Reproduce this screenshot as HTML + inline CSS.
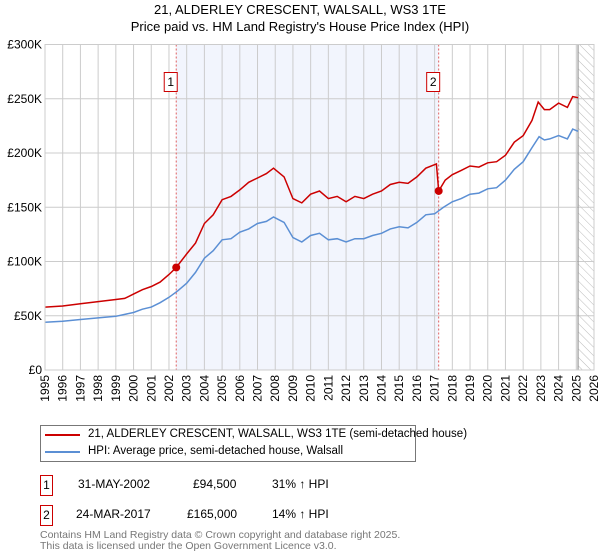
<!DOCTYPE html>
<html><head><meta charset="utf-8"><style>
body{margin:0;width:600px;height:560px;background:#fff;font-family:"Liberation Sans","DejaVu Sans",sans-serif;overflow:hidden;position:relative}
.t{position:absolute;font-size:12px;color:#000;white-space:nowrap}
.box{position:absolute;border:1px solid #c00;width:11px;height:19px;font-size:12px;text-align:center;line-height:19px}
</style></head><body>
<div class="t" style="left:0;width:600px;text-align:center;top:2px;font-size:13px">21, ALDERLEY CRESCENT, WALSALL, WS3 1TE</div>
<div class="t" style="left:0;width:600px;text-align:center;top:19px;font-size:13px">Price paid vs. HM Land Registry's House Price Index (HPI)</div>
<svg id="c" width="600" height="415" style="position:absolute;left:0;top:0">
<defs><pattern id="h" width="6" height="6" patternUnits="userSpaceOnUse" patternTransform="rotate(-45)"><line x1="0" y1="0" x2="0" y2="6" stroke="#bbb" stroke-width="1"/></pattern></defs>
</svg>
<div style="position:absolute;left:40px;top:425px;width:374px;height:35px;border:1px solid #777">
<div style="position:absolute;left:4px;top:8px;width:35px;height:2px;background:#c00"></div>
<div class="t" style="left:47px;top:2px;font-size:11.5px">21, ALDERLEY CRESCENT, WALSALL, WS3 1TE (semi-detached house)</div>
<div style="position:absolute;left:4px;top:25px;width:35px;height:2px;background:#5b8fd4"></div>
<div class="t" style="left:47px;top:19px;font-size:11.5px">HPI: Average price, semi-detached house, Walsall</div>
</div>
<div class="box" style="left:40px;top:475px">1</div>
<div class="t" style="left:78px;top:477px">31-MAY-2002</div>
<div class="t" style="left:193px;top:477px">£94,500</div>
<div class="t" style="left:272px;top:477px">31% ↑ HPI</div>
<div class="box" style="left:40px;top:505px">2</div>
<div class="t" style="left:76px;top:507px">24-MAR-2017</div>
<div class="t" style="left:187px;top:507px">£165,000</div>
<div class="t" style="left:272px;top:507px">14% ↑ HPI</div>
<div class="t" style="left:40px;top:530px;color:#777;line-height:10.5px;font-size:10.5px">Contains HM Land Registry data © Crown copyright and database right 2025.<br>This data is licensed under the Open Government Licence v3.0.</div>
<script>
const yearTicks=[1995,1996,1997,1998,1999,2000,2001,2002,2003,2004,2005,2006,2007,2008,2009,2010,2011,2012,2013,2014,2015,2016,2017,2018,2019,2020,2021,2022,2023,2024,2025,2026];
const priceTicks=[0,50000,100000,150000,200000,250000,300000];
const priceLabels=["£0","£50K","£100K","£150K","£200K","£250K","£300K"];
const hpiT=[1995,1996,1997,1998,1999,2000,2000.5,2001,2001.5,2002,2002.5,2003,2003.5,2004,2004.5,2005,2005.5,2006,2006.5,2007,2007.5,2007.9,2008.5,2009,2009.5,2010,2010.5,2011,2011.5,2012,2012.5,2013,2013.5,2014,2014.5,2015,2015.5,2016,2016.5,2017,2017.5,2018,2018.5,2019,2019.5,2020,2020.5,2021,2021.5,2022,2022.5,2022.9,2023.2,2023.5,2024,2024.5,2024.8,2025.1];
const hpiV=[44,45,46.5,48,49.5,53,56,58,62,67,73,80,90,103,110,120,121,127,130,135,137,141,136,122,118,124,126,120,121,118,121,121,124,126,130,132,131,136,143,144,150,155,158,162,163,167,168,175,185,192,205,215,212,213,216,213,222,220];
const propT=[1995,1996,1997,1998,1999,1999.5,2000,2000.5,2001,2001.5,2002,2002.41,2003,2003.5,2004,2004.5,2005,2005.5,2006,2006.5,2007,2007.5,2007.9,2008.5,2009,2009.5,2010,2010.5,2011,2011.5,2012,2012.5,2013,2013.5,2014,2014.5,2015,2015.5,2016,2016.5,2017.1,2017.23,2017.6,2018,2018.5,2019,2019.5,2020,2020.5,2021,2021.5,2022,2022.5,2022.85,2023.2,2023.5,2024,2024.5,2024.8,2025.1];
const propV=[58,59,61,63,65,66,70,74,77,81,88,94.5,107,117,135,143,157,160,166,173,177,181,186,178,158,154,162,165,158,160,155,160,158,162,165,171,173,172,178,186,190,165,175,180,184,188,187,191,192,198,210,216,230,247,240,240,246,242,252,251];
const saleT=[2002.41,2017.23];
const saleV=[94500,165000];
const saleLabels=["1","2"];
const x0=45,x1=594,yB=370,yT=44.5;
const X=t=>x0+(t-1995)/(2026-1995)*(x1-x0);
const Y=v=>yB-v/300000*(yB-yT);
const svg=document.getElementById('c');const NS='http://www.w3.org/2000/svg';
function mk(tag,a,name){const e=document.createElementNS(NS,tag);for(const k in a)e.setAttribute(k,a[k]);


svg.appendChild(e);return e;}
mk('rect',{x:X(saleT[0]),y:yT,width:X(saleT[1])-X(saleT[0]),height:yB-yT,fill:'#f2f5fd'},'ownership-period-shading');
mk('rect',{x:X(2025.1),y:yT,width:x1-X(2025.1),height:yB-yT,fill:'url(#h)'},'forecast-hatch');
yearTicks.forEach(y=>{mk('line',{x1:X(y),x2:X(y),y1:yT,y2:yB,stroke:'#ccc'},'x-gridline');
const t=mk('text',{x:0,y:0,transform:`translate(${X(y)+4},${yB+5}) rotate(-90)`,'text-anchor':'end','font-size':12,fill:'#000'},'x-tick-label');t.textContent=y;});
priceTicks.forEach((v,i)=>{mk('line',{x1:x0,x2:x1,y1:Y(v),y2:Y(v),stroke:'#ccc'},'y-gridline');
const t=mk('text',{x:x0-3,y:Y(v)+4,'text-anchor':'end','font-size':12,fill:'#000'},'y-tick-label');t.textContent=priceLabels[i];});
mk('line',{x1:X(2025.1),x2:X(2025.1),y1:yT,y2:yB,stroke:'#999','stroke-width':1.2},'forecast-boundary');
saleT.forEach((t,i)=>{mk('line',{x1:X(t),x2:X(t),y1:yT,y2:yB,stroke:'#e06060','stroke-dasharray':'2,2'},'sale-marker-line');
mk('rect',{x:X(t)-12,y:72.5,width:13,height:19,fill:'#fff',stroke:'#c00'},'sale-label-box');
const tx=mk('text',{x:X(t)-5.5,y:86,'text-anchor':'middle','font-size':12},'sale-label');tx.textContent=saleLabels[i];});
const pts=(T,V)=>T.map((t,i)=>X(t).toFixed(1)+','+Y(V[i]*1000).toFixed(1)).join(' ');
mk('polyline',{points:pts(hpiT,hpiV),fill:'none',stroke:'#5b8fd4','stroke-width':1.5},'hpi-line');
mk('polyline',{points:pts(propT,propV),fill:'none',stroke:'#c00','stroke-width':1.5},'property-price-line');
saleT.forEach((t,i)=>mk('circle',{cx:X(t),cy:Y(saleV[i]),r:4,fill:'#c00'},'sale-point'));
mk('rect',{x:x0,y:yT,width:x1-x0,height:yB-yT,fill:'none',stroke:'#ccc'},'plot-border');
</script>
</body></html>
